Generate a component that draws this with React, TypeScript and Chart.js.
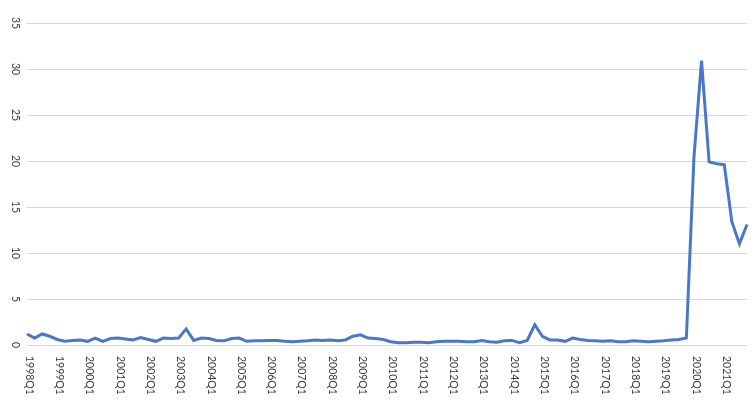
import React, { useEffect, useRef } from "react";
import { Chart, registerables } from "chart.js";

Chart.register(...registerables);

const YEARS = [
  1998, 1999, 2000, 2001, 2002, 2003, 2004, 2005, 2006, 2007, 2008, 2009,
  2010, 2011, 2012, 2013, 2014, 2015, 2016, 2017, 2018, 2019, 2020, 2021,
];
const QUARTERS = ["Q1", "Q2", "Q3", "Q4"];
const CATEGORIES: string[] = YEARS.flatMap((y) => QUARTERS.map((q) => `${y}${q}`));

const VALUES = [
  1.2, 0.75, 1.2, 0.95,
  0.6, 0.4, 0.5, 0.55,
  0.4, 0.75, 0.4, 0.7,
  0.75, 0.65, 0.55, 0.8,
  0.6, 0.4, 0.75, 0.7,
  0.75, 1.75, 0.5, 0.75,
  0.7, 0.5, 0.45, 0.7,
  0.75, 0.4, 0.45, 0.45,
  0.5, 0.5, 0.4, 0.35,
  0.4, 0.45, 0.55, 0.5,
  0.55, 0.45, 0.55, 0.95,
  1.1, 0.75, 0.7, 0.6,
  0.35, 0.25, 0.25, 0.3,
  0.3, 0.25, 0.35, 0.4,
  0.4, 0.4, 0.35, 0.35,
  0.5, 0.35, 0.3, 0.45,
  0.5, 0.25, 0.5, 2.2,
  0.95, 0.55, 0.55, 0.4,
  0.75, 0.6, 0.5, 0.45,
  0.4, 0.45, 0.35, 0.35,
  0.45, 0.4, 0.35, 0.4,
  0.45, 0.55, 0.6, 0.75,
  20.4, 30.9, 19.9, 19.7,
  19.6, 13.4, 11.0, 13.1,
];

const Y_TICKS = [0, 5, 10, 15, 20, 25, 30, 35];

const TEXT_COLOR = "#3a3a3a";
const FONT = "10.5px Lato, 'Open Sans', sans-serif";

const rotatedLabels = {
  id: "rotatedLabels",
  afterDraw(chart: any) {
    const ctx = chart.ctx as CanvasRenderingContext2D;
    const xs = chart.scales.x;
    const ys = chart.scales.y;
    const area = chart.chartArea;
    ctx.save();
    ctx.fillStyle = TEXT_COLOR;
    ctx.font = FONT;
    ctx.textAlign = "left";
    ctx.textBaseline = "middle";
    CATEGORIES.forEach((c, i) => {
      if (!c.endsWith("Q1")) return;
      const px = xs.getPixelForValue(i);
      ctx.save();
      ctx.translate(px + 2, area.bottom + 11);
      ctx.rotate(Math.PI / 2);
      ctx.fillText(c, 0, 0);
      ctx.restore();
    });
    ctx.textAlign = "center";
    Y_TICKS.forEach((v) => {
      const py = ys.getPixelForValue(v);
      ctx.save();
      ctx.translate(15, py);
      ctx.rotate(Math.PI / 2);
      ctx.fillText(String(v), 0, 0);
      ctx.restore();
    });
    ctx.restore();
  },
};

export default function App() {
  const canvasRef = useRef<HTMLCanvasElement | null>(null);

  useEffect(() => {
    if (!canvasRef.current) return;
    const chart = new Chart(canvasRef.current, {
      type: "line",
      data: {
        labels: CATEGORIES,
        datasets: [
          {
            data: VALUES,
            borderColor: "#4a78c8",
            backgroundColor: "#4a78c8",
            borderWidth: 3,
            pointRadius: 0,
            pointHoverRadius: 0,
            tension: 0,
            fill: false,
          },
        ],
      },
      options: {
        animation: false,
        responsive: true,
        maintainAspectRatio: false,
        layout: { padding: { left: 27, right: 7, top: 23, bottom: 55 } },
        plugins: { legend: { display: false }, tooltip: { enabled: false } },
        scales: {
          x: {
            type: "category",
            offset: false,
            grid: { display: false, drawTicks: false },
            border: { display: false },
            ticks: { display: false },
          },
          y: {
            min: 0,
            max: 35,
            grid: { color: "#d9d9d9", lineWidth: 1, drawTicks: false },
            border: { display: false },
            ticks: { display: false, stepSize: 5 },
          },
        },
      },
      plugins: [rotatedLabels],
    });
    return () => chart.destroy();
  }, []);

  return (
    <div
      style={{
        position: "fixed",
        left: 0,
        top: 0,
        width: 754,
        height: 400,
        background: "#ffffff",
      }}
    >
      <canvas ref={canvasRef} />
    </div>
  );
}
